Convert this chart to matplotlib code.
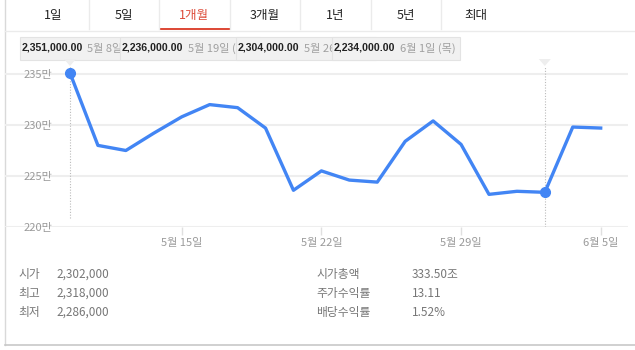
import matplotlib
matplotlib.use('Agg')
import matplotlib.pyplot as plt
from matplotlib.patches import Rectangle, Polygon
from matplotlib.transforms import Bbox

plt.rcParams['font.family'] = ['Noto Sans CJK KR', 'DejaVu Sans']

# 데이터 (단위: 만원)
dates = ['5월 8일', '5월 10일', '5월 11일', '5월 12일', '5월 15일', '5월 16일',
         '5월 17일', '5월 18일', '5월 19일', '5월 22일', '5월 23일', '5월 24일',
         '5월 25일', '5월 26일', '5월 29일', '5월 30일', '5월 31일', '6월 1일',
         '6월 2일', '6월 5일']
prices = [235.1, 228.0, 227.5, 229.2, 230.8, 232.0, 231.7, 229.7, 223.6, 225.5,
          224.6, 224.4, 228.4, 230.4, 228.1, 223.2, 223.5, 223.4, 229.8, 229.7]
yticks = [220, 225, 230, 235]
ytick_labels = ['220만', '225만', '230만', '235만']
xtick_labels = ['5월 15일', '5월 22일', '5월 29일', '6월 5일']
marked = ['5월 8일', '6월 1일']

tabs = ['1일', '5일', '1개월', '3개월', '1년', '5년', '최대']
selected_tab = '1개월'
tooltips = [('2,351,000.00', '5월 8일 (월)'), ('2,236,000.00', '5월 19일 (금)'),
            ('2,304,000.00', '5월 26일 (금)'), ('2,234,000.00', '6월 1일 (목)')]
stats_left = [('시가', '2,302,000'), ('최고', '2,318,000'), ('최저', '2,286,000')]
stats_right = [('시가총액', '333.50조'), ('주가수익률', '13.11'), ('배당수익률', '1.52%')]

W, H = 635, 350
fig = plt.figure(figsize=(W / 100, H / 100), dpi=100)
fig.patch.set_facecolor('white')
renderer = fig.canvas.get_renderer()

# 배경 (픽셀 좌표)
bg = fig.add_axes([0, 0, 1, 1])
bg.set_xlim(0, W)
bg.set_ylim(H, 0)
bg.axis('off')

# 테두리
bg.plot([4.5, 4.5], [0, 345], color='#d9d9d9', lw=1)
bg.plot([4.5, W], [345, 345], color='#c8c8c8', lw=1.2)
bg.plot([4.5, W], [30.5, 30.5], color='#ebebeb', lw=1)

# 탭
tab_w = 70.5
for i, t in enumerate(tabs):
    x0 = 18 + tab_w * i
    sel = t == selected_tab
    bg.text(x0 + tab_w / 2, 15, t, ha='center', va='center', fontsize=9,
            color='#dd4b39' if sel else '#222222')
    if i > 0:
        bg.plot([x0, x0], [0, 29], color='#ebebeb', lw=1)
    if sel:
        bg.add_patch(Rectangle((x0, 27.5), tab_w, 2.5, color='#dd4b39', lw=0))

# 툴팁 (겹쳐진 상자)
box_x = [20, 120, 236, 332]
box_end = 460
by0, by1 = 36.5, 59.5
for i, (val, d) in enumerate(tooltips):
    x0 = box_x[i]
    vis_end = box_x[i + 1] if i + 1 < len(box_x) else box_end
    bg.add_patch(Rectangle((x0, by0), box_end - x0 if i == len(tooltips) - 1 else 140,
                           by1 - by0, facecolor='#f1f1f1', edgecolor='#e3e3e3',
                           lw=0.8, zorder=10 + 2 * i))
    clip = Bbox([[x0, H - by1], [vis_end - 1, H - by0]])
    t1 = bg.text(x0 + 2, 48, val, ha='left', va='center', fontsize=7.6,
                 family=['Liberation Sans', 'DejaVu Sans'], fontweight='bold',
                 color='#222222', zorder=11 + 2 * i)
    t1.set_clip_box(clip)
    x_end = t1.get_window_extent(renderer).x1
    t2 = bg.text(x_end + 4, 48, d, ha='left', va='center', fontsize=8,
                 color='#a0a0a0', zorder=11 + 2 * i)
    t2.set_clip_box(clip)

# 차트
left, right, top, bottom = 5, 628, 66, 227
ax = fig.add_axes([left / W, (H - bottom) / H, (right - left) / W, (bottom - top) / H])
ax.patch.set_alpha(0)
n = len(prices)
step = (600.7 - 70) / (n - 1)
ax.set_xlim(-(70 - left) / step, (n - 1) + (right - 600.7) / step)
ax.set_ylim(220, 220 + (bottom - top) / 10.2)
for s in ax.spines.values():
    s.set_visible(False)

for yv in yticks:
    ax.axhline(yv, color='#eeeeee', lw=1.5, zorder=0)

ax.set_yticks(yticks)
ax.set_yticklabels(ytick_labels)
ax.tick_params(axis='y', length=0, pad=-34, labelsize=8, labelcolor='#9a9a9a')
for lab in ax.get_yticklabels():
    lab.set_ha('right')

xt = [dates.index(d) for d in xtick_labels]
ax.set_xticks(xt)
ax.set_xticklabels(xtick_labels)
ax.tick_params(axis='x', length=6, width=1, color='#e0e0e0', pad=2,
               labelsize=8, labelcolor='#9a9a9a')

xs = list(range(n))
for d in marked:
    i = dates.index(d)
    ax.plot([i, i], [220.9 if i == 0 else 220, 235.75], color='#bbbbbb', lw=0.8,
            ls=(0, (1, 1.5)), zorder=1)
    px = 70 + step * i
    bg.add_patch(Polygon([[px - 6, 59], [px + 6, 59], [px, 66]], closed=True,
                         facecolor='#eeeeee', edgecolor='none', zorder=20))

ax.plot(xs, prices, color='#4285f4', lw=2.4, solid_joinstyle='round', zorder=3)
mi = [dates.index(d) for d in marked]
ax.plot(mi, [prices[i] for i in mi], 'o', color='#4285f4', ms=7, zorder=4)

# 하단 통계
for j, (k, v) in enumerate(stats_left):
    y = 274.5 + 19 * j
    bg.text(18, y, k, ha='left', va='center', fontsize=8.5, color='#777777')
    bg.text(56, y, v, ha='left', va='center', fontsize=8.5, color='#777777')
for j, (k, v) in enumerate(stats_right):
    y = 274.5 + 19 * j
    bg.text(316, y, k, ha='left', va='center', fontsize=8.5, color='#777777')
    bg.text(412, y, v, ha='left', va='center', fontsize=8.5, color='#777777')

fig.savefig('out.png', dpi=100)
